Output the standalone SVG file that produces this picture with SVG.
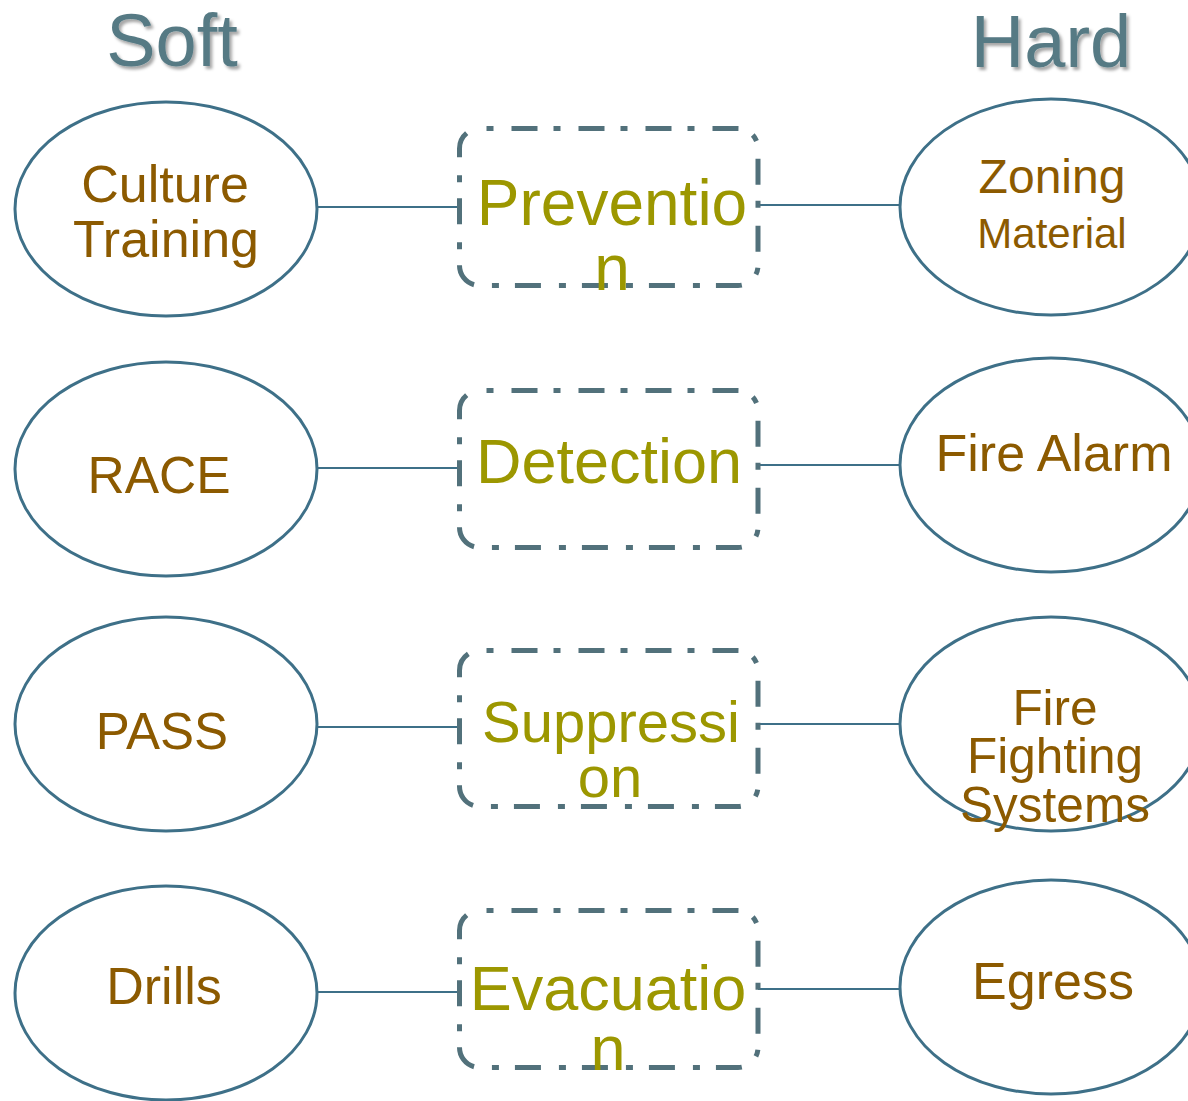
<svg xmlns="http://www.w3.org/2000/svg" width="1188" height="1101" viewBox="0 0 1188 1101">
<defs>
<filter id="sh" x="-10%" y="-10%" width="130%" height="140%">
<feDropShadow dx="2.5" dy="3" stdDeviation="1.6" flood-color="#000" flood-opacity="0.35"/>
</filter>
</defs>
<style>
.hdr{font-family:"Liberation Sans",Arial,sans-serif;font-size:74px;fill:#567a84;text-anchor:middle;}
.ell{fill:#fff;stroke:#3e7088;stroke-width:3;}
.box{fill:#fff;stroke:#52717b;stroke-width:5;stroke-dasharray:7 18 26 16;stroke-dashoffset:60;}
.con{stroke:#3e7088;stroke-width:2;fill:none;}
.br{font-family:"Liberation Sans",Arial,sans-serif;fill:#8c5a00;text-anchor:middle;}
.ol{font-family:"Liberation Sans",Arial,sans-serif;fill:#9c9700;text-anchor:middle;}
</style>
<rect width="1188" height="1101" fill="#fff"/>
<g id="headers">
<text class="hdr" x="172" y="66" filter="url(#sh)">Soft</text>
<text class="hdr" x="1051" y="67" filter="url(#sh)">Hard</text>
</g>
<g id="connectors">
<line class="con" x1="317" y1="207" x2="459" y2="207"/>
<line class="con" x1="758" y1="205" x2="900" y2="205"/>
<line class="con" x1="317" y1="468" x2="459" y2="468"/>
<line class="con" x1="758" y1="465" x2="900" y2="465"/>
<line class="con" x1="317" y1="727" x2="459" y2="727"/>
<line class="con" x1="758" y1="724" x2="900" y2="724"/>
<line class="con" x1="317" y1="992" x2="459" y2="992"/>
<line class="con" x1="758" y1="989" x2="900" y2="989"/>
</g>
<g id="soft-culture">
<ellipse class="ell" cx="166" cy="209" rx="151" ry="107"/>
<text class="br" font-size="52" x="165" y="202">Culture</text>
<text class="br" font-size="52" x="166" y="257">Training</text>
</g>
<g id="soft-race">
<ellipse class="ell" cx="166" cy="469" rx="151" ry="107"/>
<text class="br" font-size="51.5" x="159" y="493">RACE</text>
</g>
<g id="soft-pass">
<ellipse class="ell" cx="166" cy="724" rx="151" ry="107"/>
<text class="br" font-size="51" x="162" y="749">PASS</text>
</g>
<g id="soft-drills">
<ellipse class="ell" cx="166" cy="993" rx="151" ry="107"/>
<text class="br" font-size="52" x="164" y="1004">Drills</text>
</g>
<g id="prevention">
<rect class="box" x="459.5" y="128.5" width="298.5" height="157" rx="20"/>
<text class="ol" font-size="64" x="612" y="225">Preventio</text>
<text class="ol" font-size="64" x="612" y="290">n</text>
</g>
<g id="detection">
<rect class="box" x="459.5" y="390.5" width="298.5" height="157" rx="20"/>
<text class="ol" font-size="63" x="609" y="483">Detection</text>
</g>
<g id="suppression">
<rect class="box" x="459.5" y="650.5" width="298.5" height="156" rx="20"/>
<text class="ol" font-size="58" x="611" y="742">Suppressi</text>
<text class="ol" font-size="58" x="610" y="797">on</text>
</g>
<g id="evacuation">
<rect class="box" x="459.5" y="910.5" width="298.5" height="157" rx="20"/>
<text class="ol" font-size="63" x="608" y="1010">Evacuatio</text>
<text class="ol" font-size="63" x="608" y="1070">n</text>
</g>
<g id="hard-zoning">
<ellipse class="ell" cx="1051" cy="207" rx="151" ry="108"/>
<text class="br" font-size="48" x="1052" y="193">Zoning</text>
<text class="br" font-size="42" x="1052" y="248">Material</text>
</g>
<g id="hard-firealarm">
<ellipse class="ell" cx="1051" cy="465" rx="151" ry="107"/>
<text class="br" font-size="52" x="1054" y="471">Fire Alarm</text>
</g>
<g id="hard-firefighting">
<ellipse class="ell" cx="1051" cy="724" rx="151" ry="107"/>
<text class="br" font-size="49.5" x="1055" y="725">Fire</text>
<text class="br" font-size="49.5" x="1055" y="773">Fighting</text>
<text class="br" font-size="49.5" x="1055" y="822">Systems</text>
</g>
<g id="hard-egress">
<ellipse class="ell" cx="1051" cy="987" rx="151" ry="107"/>
<text class="br" font-size="52" x="1053" y="999">Egress</text>
</g>
</svg>
